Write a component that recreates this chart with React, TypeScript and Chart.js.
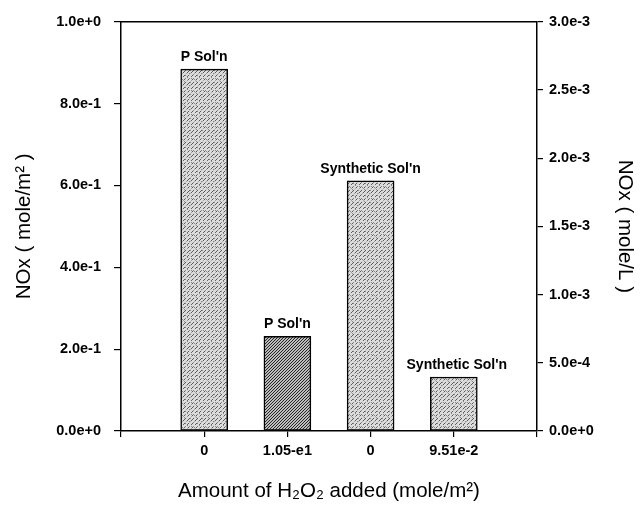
import React, { useEffect, useRef } from 'react';
import { Chart, registerables } from 'chart.js';

Chart.register(...registerables);

// ---- data ----
const categories = ['', '0', '1.05-e1', '0', '9.51e-2', ''];
const noxValues = [null, 0.884, 0.231, 0.611, 0.132, null];
const barLabels = ['', "P Sol'n", "P Sol'n", "Synthetic Sol'n", "Synthetic Sol'n", ''];
const barShades = ['light', 'light', 'dark', 'light', 'light', 'light'];
const leftAxisMin = 0;
const leftAxisMax = 1.0;
const leftAxisStep = 0.2;
const rightAxisMin = 0;
const rightAxisMax = 0.003;
const rightAxisStep = 0.0005;
const leftTitle = 'NOx ( mole/m\u00B2 )';
const rightTitle = 'NOx ( mole/L )';
const bottomTitle = 'Amount of H\u2082O\u2082 added (mole/m\u00B2)';

const FONT = "Arial, 'Liberation Sans', Helvetica, sans-serif";

function makePattern(ctx: CanvasRenderingContext2D, dark: boolean): CanvasPattern | string {
  const size = 12;
  const c = document.createElement('canvas');
  c.width = size;
  c.height = size;
  const g = c.getContext('2d');
  if (!g) return dark ? '#888' : '#ccc';
  g.fillStyle = dark ? '#bcbcbc' : '#dcdcdc';
  g.fillRect(0, 0, size, size);
  g.strokeStyle = dark ? '#262626' : '#4a4a4a';
  g.lineWidth = dark ? 1.0 : 0.9;
  if (!dark) g.setLineDash([3, 2]);
  const step = dark ? 3 : 4;
  for (let o = -size; o <= size * 2; o += step) {
    g.beginPath();
    g.moveTo(o, size);
    g.lineTo(o + size, 0);
    g.stroke();
  }
  if (!dark) {
    g.fillStyle = '#8a8a8a';
    const dots = [[1, 2], [7, 5], [4, 9], [10, 10], [2, 7], [9, 1], [5, 3], [11, 6]];
    dots.forEach(([x, y]) => g.fillRect(x, y, 1, 1));
  }
  return ctx.createPattern(c, 'repeat') || (dark ? '#888' : '#ccc');
}

const frameTopPlugin = {
  id: 'frameTop',
  afterDraw(chart: any) {
    const { ctx, chartArea } = chart;
    ctx.save();
    ctx.strokeStyle = '#000';
    ctx.lineWidth = 1.5;
    ctx.beginPath();
    ctx.moveTo(chartArea.left, chartArea.top);
    ctx.lineTo(chartArea.right, chartArea.top);
    ctx.stroke();
    ctx.restore();
  },
};

const barLabelPlugin = {
  id: 'barLabels',
  afterDatasetsDraw(chart: any) {
    const { ctx } = chart;
    const meta = chart.getDatasetMeta(0);
    ctx.save();
    ctx.fillStyle = '#000';
    ctx.font = `bold 14px ${FONT}`;
    ctx.textAlign = 'center';
    ctx.textBaseline = 'alphabetic';
    meta.data.forEach((bar: any, i: number) => {
      const label = barLabels[i];
      if (!label || noxValues[i] == null) return;
      ctx.fillText(label, bar.x + (i === 4 ? 3 : 0), bar.y - 8);
    });
    ctx.restore();
  },
};

export default function App() {
  const canvasRef = useRef<HTMLCanvasElement | null>(null);

  useEffect(() => {
    document.body.style.margin = '0';
    const canvas = canvasRef.current;
    if (!canvas) return;
    const ctx = canvas.getContext('2d');
    if (!ctx) return;
    const light = makePattern(ctx, false);
    const dark = makePattern(ctx, true);
    const fills = barShades.map((s) => (s === 'dark' ? dark : light));

    const chart = new Chart(ctx, {
      type: 'bar',
      data: {
        labels: categories,
        datasets: [
          {
            data: noxValues as any,
            backgroundColor: fills as any,
            borderColor: '#000',
            borderWidth: 1.5,
            borderSkipped: false,
            barThickness: 47,
            yAxisID: 'y',
          },
        ],
      },
      options: {
        responsive: false,
        animation: false,
        devicePixelRatio: 1,
        layout: { padding: { top: 15, left: 0, right: 0, bottom: 0 } },
        plugins: {
          legend: { display: false },
          tooltip: { enabled: false },
        },
        scales: {
          x: {
            type: 'category',
            offset: false,
            afterFit(scale: any) {
              scale.height = 77;
            },
            grid: {
              offset: false,
              drawOnChartArea: false,
              drawTicks: true,
              tickLength: 6,
              color: '#000',
              lineWidth: 1.2,
            },
            border: { display: true, color: '#000', width: 1.5 },
            ticks: {
              color: '#000',
              padding: 5,
              maxRotation: 0,
              autoSkip: false,
              font: { family: FONT, size: 14.5, weight: 'bold' },
            },
            title: {
              display: true,
              text: bottomTitle,
              color: '#000',
              font: { family: FONT, size: 20.5 },
              padding: { top: 0, bottom: 4 },
            },
          },
          y: {
            position: 'left',
            min: leftAxisMin,
            max: leftAxisMax,
            afterFit(scale: any) {
              scale.width = 121;
            },
            grid: {
              drawOnChartArea: false,
              drawTicks: true,
              tickLength: 7,
              color: '#000',
              lineWidth: 1.2,
            },
            border: { display: true, color: '#000', width: 1.5 },
            ticks: {
              stepSize: leftAxisStep,
              color: '#000',
              padding: 13,
              font: { family: FONT, size: 14.5, weight: 'bold' },
              callback: (v: any) => Number(v).toExponential(1),
            },
            title: {
              display: true,
              text: leftTitle,
              color: '#000',
              font: { family: FONT, size: 20.5 },
              padding: { top: 12, bottom: 0 },
            },
          },
          y2: {
            position: 'right',
            min: rightAxisMin,
            max: rightAxisMax,
            afterFit(scale: any) {
              scale.width = 104;
            },
            grid: {
              drawOnChartArea: false,
              drawTicks: true,
              tickLength: 6,
              color: '#000',
              lineWidth: 1.2,
            },
            border: { display: true, color: '#000', width: 1.5 },
            ticks: {
              stepSize: rightAxisStep,
              color: '#000',
              padding: 6,
              font: { family: FONT, size: 14.5, weight: 'bold' },
              callback: (v: any) => Number(v).toExponential(1),
            },
            title: {
              display: true,
              text: rightTitle,
              color: '#000',
              font: { family: FONT, size: 20.5 },
              padding: { top: 4, bottom: 0 },
            },
          },
        },
      } as any,
      plugins: [frameTopPlugin, barLabelPlugin],
    });

    return () => {
      chart.destroy();
    };
  }, []);

  return (
    <div style={{ width: 641, height: 508, background: '#fff' }}>
      <canvas ref={canvasRef} width={641} height={508} style={{ display: 'block' }} />
    </div>
  );
}
